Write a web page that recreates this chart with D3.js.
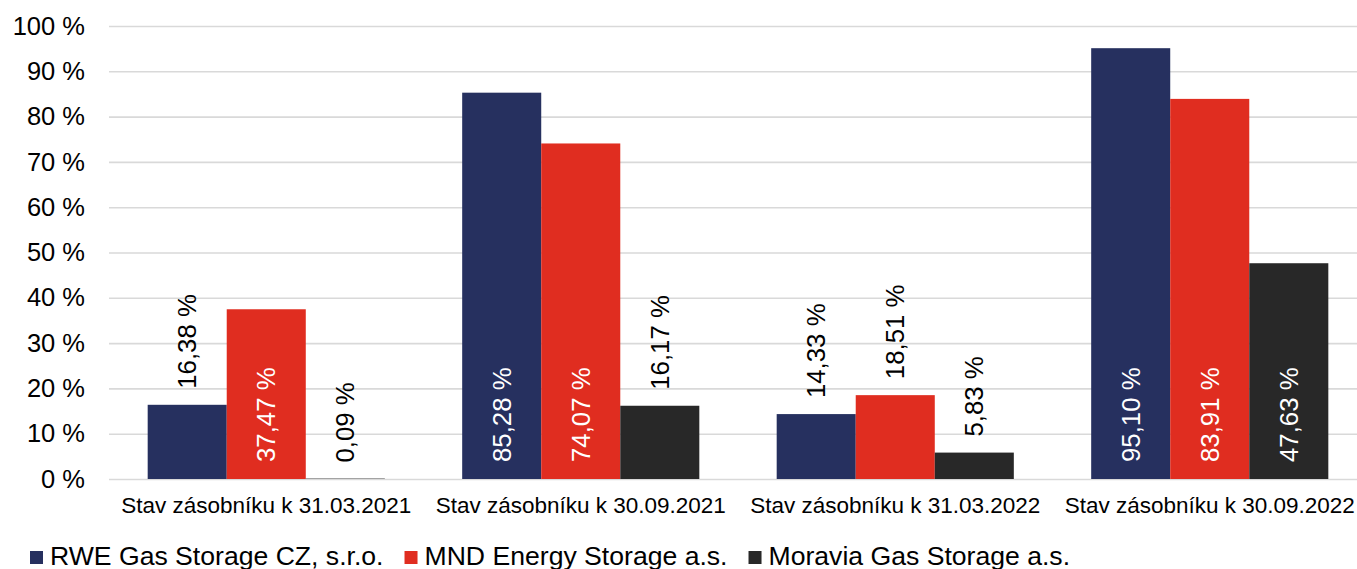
<!DOCTYPE html>
<html>
<head>
<meta charset="utf-8">
<script src="https://cdn.jsdelivr.net/npm/d3@7"></script>
<style>
  body { margin: 0; background: #fff; }
  svg { display: block; font-family: "Liberation Sans", Arial, sans-serif; }
</style>
</head>
<body>
<div id="chart-area"></div>
<script>
// data
var categories = [
    "Stav zásobníku k 31.03.2021",
    "Stav zásobníku k 30.09.2021",
    "Stav zásobníku k 31.03.2022",
    "Stav zásobníku k 30.09.2022"
];
var seriesNames = [
    "RWE Gas Storage CZ, s.r.o.",
    "MND Energy Storage a.s.",
    "Moravia Gas Storage a.s."
];
var rwe = [16.38, 85.28, 14.33, 95.10];
var mnd = [37.47, 74.07, 18.51, 83.91];
var moravia = [0.09, 16.17, 5.83, 47.63];
var yTicks = [0, 10, 20, 30, 40, 50, 60, 70, 80, 90, 100];

var colors = ["#26305f", "#e02d20", "#282828"];

var W = 1357, H = 569;
var plotLeft = 109, plotRight = 1367, plotTop = 26, plotBottom = 479;

var svg = d3.select("#chart-area")
    .append("svg")
    .attr("width", W)
    .attr("height", H);

var x0 = d3.scaleBand()
    .domain(categories)
    .range([plotLeft, plotRight])
    .paddingInner(0.246)
    .paddingOuter(0.123);

var x1 = d3.scaleBand()
    .domain(d3.range(seriesNames.length))
    .range([0, x0.bandwidth()]);

var y = d3.scaleLinear()
    .domain([0, 100])
    .range([plotBottom, plotTop]);

// gridlines + y labels
var yAxis = svg.append("g")
    .attr("transform", "translate(" + plotLeft + ",0)")
    .call(d3.axisLeft(y)
        .tickValues(yTicks)
        .tickSize(-(W - plotLeft))
        .tickPadding(24)
        .tickFormat(d => d + " %"));
yAxis.select(".domain").remove();
yAxis.selectAll(".tick line")
    .attr("stroke", "#d9d9d9")
    .attr("stroke-width", 1.6);
yAxis.selectAll(".tick text")
    .attr("fill", "#000")
    .style("font-size", "25.5px")
    .style("font-family", "\"Liberation Sans\", Arial, sans-serif");

// category labels
svg.append("g").selectAll("text")
    .data(categories)
    .enter()
    .append("text")
    .attr("x", d => x0(d) + x0.bandwidth() / 2)
    .attr("y", 513)
    .attr("text-anchor", "middle")
    .style("font-size", "22.5px")
    .attr("fill", "#000")
    .text(d => d);

var table = [];
var allSeries = [rwe, mnd, moravia];
categories.forEach(function(c, i) {
    allSeries.forEach(function(s, j) {
        table.push({cat: c, s: j, value: s[i]});
    });
});

var fmt = function(v) {
    return v.toFixed(2).replace(".", ",") + " %";
};

svg.append("g").selectAll("rect")
    .data(table)
    .enter()
    .append("rect")
    .attr("x", d => x0(d.cat) + x1(d.s))
    .attr("y", d => y(d.value))
    .attr("width", x1.bandwidth())
    .attr("height", d => y(0) - y(d.value))
    .attr("fill", d => colors[d.s]);

// data labels, rotated
svg.append("g").selectAll("text")
    .data(table)
    .enter()
    .append("text")
    .attr("transform", function(d) {
        var cx = x0(d.cat) + x1(d.s) + x1.bandwidth() / 2;
        var inside = d.value > 30;
        var ty = inside ? y(0) - 17 : y(d.value) - 16;
        return "translate(" + cx + "," + ty + ") rotate(-90)";
    })
    .attr("dy", "0.35em")
    .attr("text-anchor", "start")
    .style("font-size", "25.8px")
    .attr("fill", d => d.value > 30 ? "#fff" : "#000")
    .text(d => fmt(d.value));

// legend
var legend = svg.append("g");
var lx = 30;
seriesNames.forEach(function(name, i) {
    legend.append("rect")
        .attr("x", lx)
        .attr("y", 551)
        .attr("width", 13)
        .attr("height", 13)
        .attr("fill", colors[i]);
    var t = legend.append("text")
        .attr("x", lx + 20)
        .attr("y", 565)
        .style("font-size", "26.6px")
        .attr("fill", "#000")
        .text(name);
    lx = lx + 20 + t.node().getComputedTextLength() + 21;
});
</script>
</body>
</html>
